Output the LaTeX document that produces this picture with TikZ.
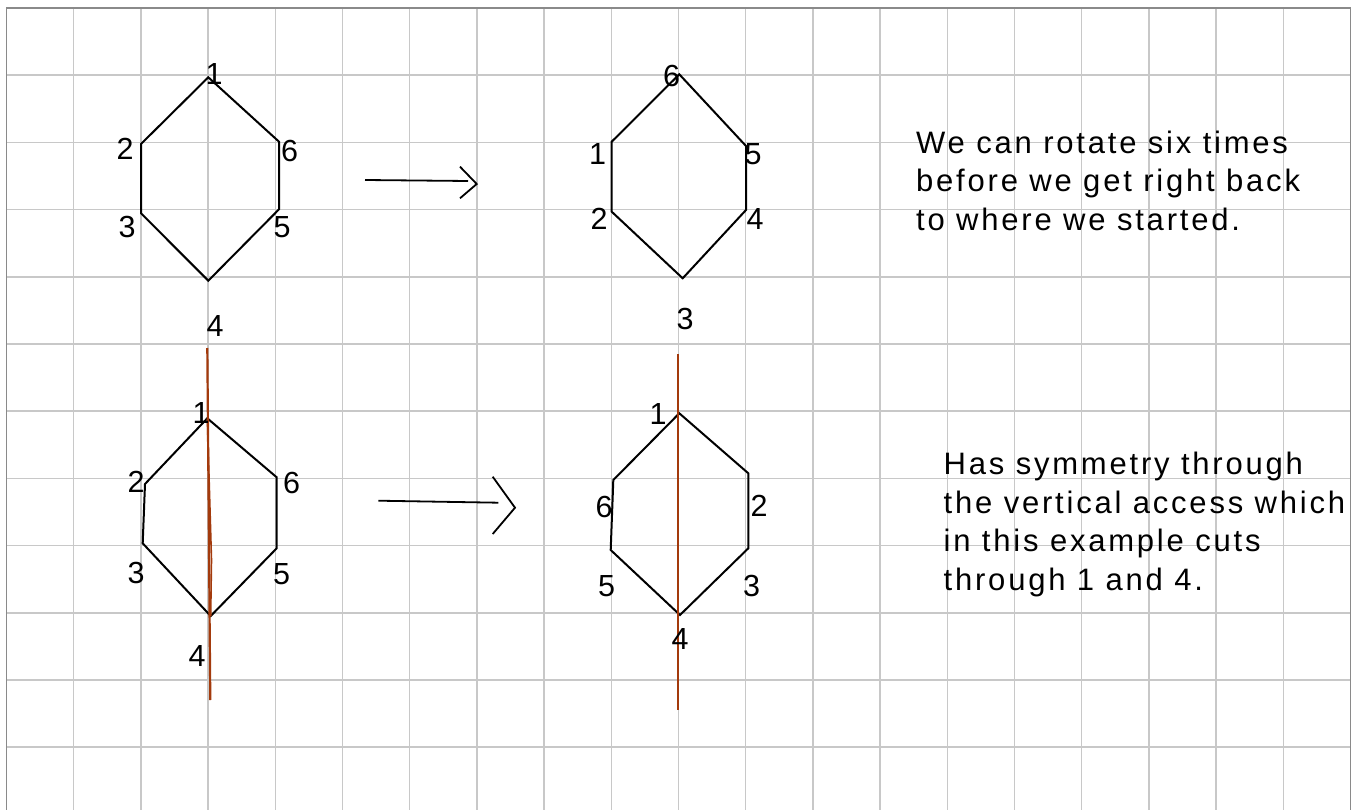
\documentclass[tikz,border=0pt]{standalone}
\usepackage{fontspec}
\setmainfont{Liberation Sans}
\newfontfamily\notefont[LetterSpace=9]{Liberation Sans}
\usepackage{tikz}

\definecolor{gridgray}{RGB}{200,200,200}
\definecolor{framegray}{RGB}{138,138,138}
\definecolor{axisred}{RGB}{163,58,12}

\begin{document}
\begin{tikzpicture}[x=1pt, y=-1pt,
    gridline/.style={draw=gridgray, line width=1.5pt},
    frameline/.style={draw=framegray, line width=1.5pt},
    hexline/.style={draw=black, line width=2pt},
    pfeil/.style={draw=black, line width=1.8pt},
    achse/.style={draw=axisred, line width=2.2pt},
    nummer/.style={inner sep=0pt, font=\fontsize{30.5}{36}\selectfont},
    notiz/.style={inner sep=0pt, anchor=north west, align=left,
                  font=\notefont\fontsize{31}{38.5}\selectfont}
  ]
    \useasboundingbox (0,0) rectangle (1354,810);

    % squared paper
    \foreach \k in {1,...,19}
      \draw[gridline] ({6.5+67.2*\k},8) -- ({6.5+67.2*\k},810);
    \foreach \k in {1,...,11}
      \draw[gridline] (6.5,{8+67.2*\k}) -- (1350.5,{8+67.2*\k});
    \draw[frameline] (6.5,810) -- (6.5,8) -- (1350.5,8) -- (1350.5,810);

    % top left hexagon
    \coordinate (a1) at (208.3,77.3);
    \coordinate (a2) at (141,144);
    \coordinate (a3) at (141,213.3);
    \coordinate (a4) at (208.3,280.7);
    \coordinate (a5) at (279,209.3);
    \coordinate (a6) at (279,141.7);
    \draw[hexline] (a1) -- (a2) -- (a3) -- (a4) -- (a5) -- (a6) -- cycle;
    \node[nummer] (na1) at (214,74.5) {1};
    \node[nummer] (na2) at (125,149) {2};
    \node[nummer] (na3) at (127,227) {3};
    \node[nummer] (na4) at (215,326) {4};
    \node[nummer] (na5) at (282,227.5) {5};
    \node[nummer] (na6) at (289.5,151) {6};

    % first arrow
    \coordinate (p1s) at (365,180);
    \coordinate (p1e) at (468,181);
    \coordinate (p1o) at (460,166.7);
    \coordinate (p1t) at (476.7,184);
    \coordinate (p1u) at (460,198.3);
    \draw[pfeil] (p1s) -- (p1e);
    \draw[pfeil] (p1o) -- (p1t) -- (p1u);

    % top right hexagon (rotated)
    \coordinate (b1) at (611.7,141.7);
    \coordinate (b2) at (611.7,211.7);
    \coordinate (b3) at (682.7,278.3);
    \coordinate (b4) at (746,210);
    \coordinate (b5) at (746,146);
    \coordinate (b6) at (679.3,74.3);
    \draw[hexline] (b6) -- (b1) -- (b2) -- (b3) -- (b4) -- (b5) -- cycle;
    \node[nummer] (nb6) at (671.5,76) {6};
    \node[nummer] (nb1) at (597.5,154) {1};
    \node[nummer] (nb5) at (753,154.5) {5};
    \node[nummer] (nb2) at (599,219) {2};
    \node[nummer] (nb4) at (755,219) {4};
    \node[nummer] (nb3) at (685,319) {3};

    % bottom left hexagon with its axis
    \coordinate (c1) at (207.3,418.3);
    \coordinate (c2) at (145,484);
    \coordinate (c3) at (142.7,543.3);
    \coordinate (c4) at (210.7,616);
    \coordinate (c5) at (276.7,548.3);
    \coordinate (c6) at (276.7,477.3);
    \draw[hexline] (c1) -- (c2) -- (c3) -- (c4) -- (c5) -- (c6) -- cycle;
    \coordinate (cat) at (207.3,348);
    \coordinate (cam) at (211.5,560);
    \coordinate (cab) at (210.3,700);
    \draw[achse] (cat) -- (cab);
    \draw[achse, line width=1.6pt] (c1) -- (cam) -- (c4);
    \node[nummer] (nc1) at (201,413) {1};
    \node[nummer] (nc2) at (136,482) {2};
    \node[nummer] (nc6) at (291.7,483) {6};
    \node[nummer] (nc3) at (136,573) {3};
    \node[nummer] (nc5) at (281.7,574) {5};
    \node[nummer] (nc4) at (197,656) {4};

    % second arrow
    \coordinate (p2s) at (378.3,500.7);
    \coordinate (p2e) at (498.3,502.7);
    \coordinate (p2o) at (492.7,476.7);
    \coordinate (p2t) at (515,507.7);
    \coordinate (p2u) at (492.7,534);
    \draw[pfeil] (p2s) -- (p2e);
    \draw[pfeil] (p2o) -- (p2t) -- (p2u);

    % bottom right hexagon (reflected)
    \coordinate (d1) at (679.3,413.3);
    \coordinate (d2) at (748.3,473.3);
    \coordinate (d3) at (748.3,548.3);
    \coordinate (d4) at (680,615);
    \coordinate (d5) at (610.7,550);
    \coordinate (d6) at (613.3,480);
    \draw[hexline] (d1) -- (d2) -- (d3) -- (d4) -- (d5) -- (d6) -- cycle;
    \coordinate (dat) at (678.3,354);
    \coordinate (dab) at (678.3,710);
    \draw[achse, line width=1.8pt] (dat) -- (dab);
    \node[nummer] (nd1) at (658,414) {1};
    \node[nummer] (nd6) at (604,507) {6};
    \node[nummer] (nd2) at (759,506) {2};
    \node[nummer] (nd5) at (606.7,586) {5};
    \node[nummer] (nd3) at (751.7,586) {3};
    \node[nummer] (nd4) at (680,639) {4};

    % notes
    \node[notiz] (drehung) at (916,130.4)
      {We can rotate six times\\before we get right back\\to where we started.};
    \node[notiz] (spiegel) at (943.5,452)
      {Has symmetry through\\the vertical access which\\in this example cuts\\through 1 and 4.};
\end{tikzpicture}
\end{document}
